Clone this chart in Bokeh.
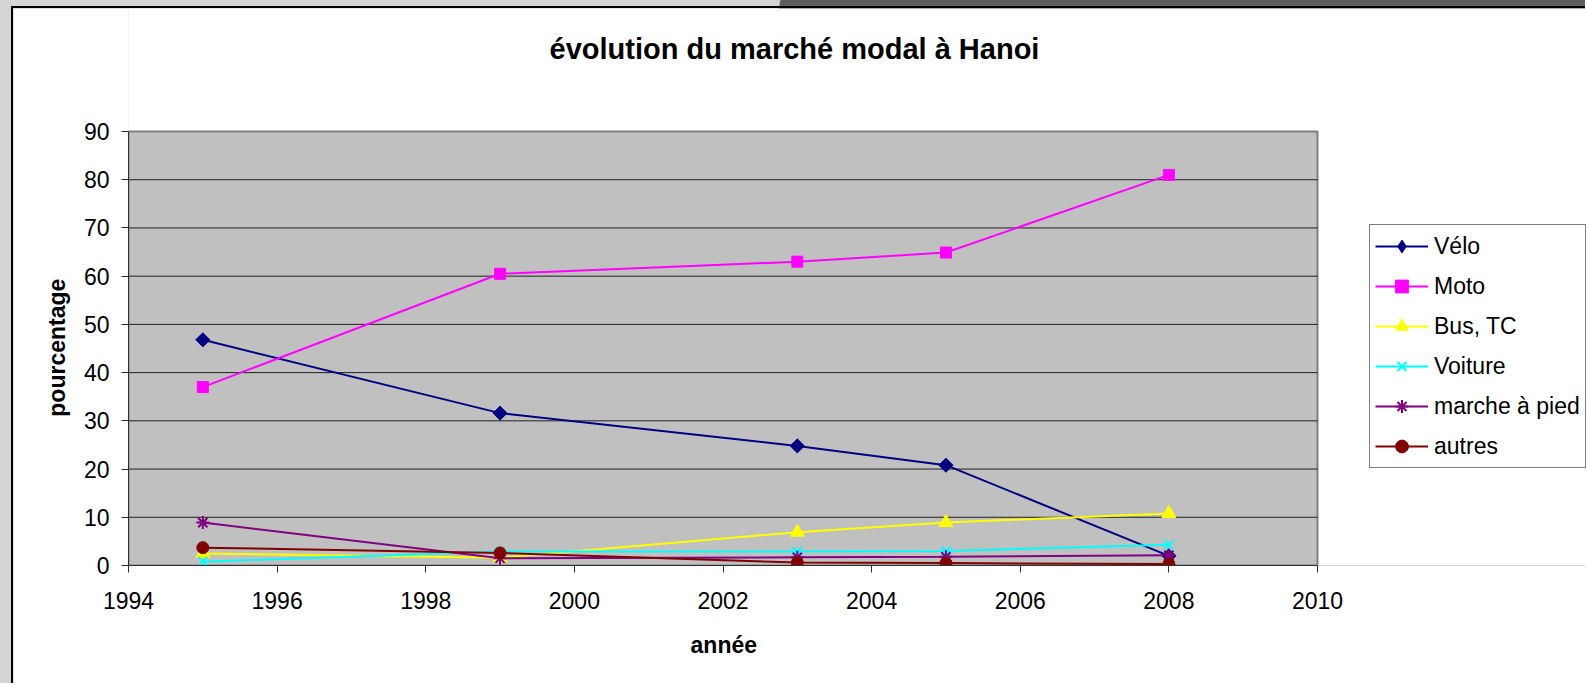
import math
from bokeh.plotting import figure
from bokeh.layouts import column
from bokeh.models import Legend, LegendItem, Label, Range1d, FixedTicker
from bokeh.embed import file_html
from bokeh.resources import INLINE

years = [1995, 1999, 2003, 2005, 2008]
velo = [46.8, 31.6, 24.8, 20.8, 2.0]
moto = [37.0, 60.5, 63.0, 64.9, 81.0]
bus_tc = [2.5, 1.6, 6.9, 8.9, 10.8]
voiture = [0.8, 2.9, 2.9, 3.0, 4.3]
marche = [8.9, 1.5, 1.7, 1.8, 2.1]
autres = [3.7, 2.6, 0.6, 0.5, 0.3]

series = [
    ("Vélo", velo, "#000080", "square", 10, math.pi / 4),
    ("Moto", moto, "#FF00FF", "square", 11, 0),
    ("Bus, TC", bus_tc, "#FFFF00", "triangle", 14, 0),
    ("Voiture", voiture, "#00FFFF", "x", 13, 0),
    ("marche à pied", marche, "#800080", "asterisk", 13, 0),
    ("autres", autres, "#800000", "circle", 12, 0),
]

x_ticks = list(range(1994, 2011, 2))
y_ticks = list(range(0, 91, 10))
X0, X1 = x_ticks[0], x_ticks[-1]
Y0, Y1 = y_ticks[0], y_ticks[-1]

FONT = "Liberation Sans"

FIG_W, FIG_H = 1574, 677
B_LEFT, B_BOTTOM = 115, 120
PLOT_W, PLOT_H = 1189, 434      # size of the grey plot area in pixels
FRAME_W = FIG_W - B_LEFT         # frame runs to the right / top edges (legend, title live there)
FRAME_H = FIG_H - B_BOTTOM
x_end = X0 + (X1 - X0) * FRAME_W / PLOT_W
y_end = Y0 + (Y1 - Y0) * FRAME_H / PLOT_H
px_x = (X1 - X0) / PLOT_W
px_y = (Y1 - Y0) / PLOT_H

# axis labels are centred on the whole frame; pad them with no-break spaces
# so that the visible words sit centred on the grey plot area
NBSP = "\u00a0"
x_label = "année" + NBSP * 42
y_label = "pourcentage" + NBSP * 19

p = figure(width=FIG_W, height=FIG_H, output_backend="svg", toolbar_location=None,
           x_range=Range1d(X0, x_end), y_range=Range1d(Y0, y_end),
           min_border_left=B_LEFT, min_border_right=0, min_border_top=0,
           min_border_bottom=B_BOTTOM)
p.styles = {"border-left": "2px solid black", "border-top": "2px solid black"}

p.background_fill_color = "white"
p.border_fill_color = "white"
p.outline_line_color = None
p.xgrid.grid_line_color = None
p.ygrid.grid_line_color = None

# grey plot area with its grey border
p.quad(left=[X0], right=[X1], bottom=[Y0], top=[Y1],
       fill_color="#C0C0C0", line_color="#808080", line_width=2)
# horizontal gridlines limited to the plot area
grid_y = y_ticks[1:-1]
p.segment(x0=[X0] * len(grid_y), x1=[X1] * len(grid_y), y0=grid_y, y1=grid_y,
          line_color="#202020", line_width=1)

for ax in (p.xaxis[0], p.yaxis[0]):
    ax.axis_line_color = "#303030"
    ax.axis_line_width = 1
    ax.major_tick_line_color = "#303030"
    ax.major_tick_out = 7
    ax.major_tick_in = 0
    ax.minor_tick_line_color = None
    ax.major_label_text_font = FONT
    ax.major_label_text_font_size = "23px"
    ax.major_label_text_color = "black"
    ax.axis_label_text_font = FONT
    ax.axis_label_text_font_size = "23px"
    ax.axis_label_text_font_style = "bold"
    ax.axis_label_text_color = "black"

p.xaxis.bounds = (X0, X1)
p.yaxis.bounds = (Y0, Y1)
p.xaxis.ticker = FixedTicker(ticks=x_ticks)
p.yaxis.ticker = FixedTicker(ticks=y_ticks)
p.xaxis.major_label_standoff = 19
p.yaxis.major_label_standoff = 12
p.xaxis.axis_label = x_label
p.yaxis.axis_label = y_label
p.xaxis.axis_label_standoff = 20
p.yaxis.axis_label_standoff = 11

items = []
for name, vals, color, marker, size, ang in series:
    r1 = p.line(years, vals, line_color=color, line_width=2)
    if marker in ("x", "asterisk"):
        r2 = p.scatter(years, vals, marker=marker, size=size, line_color=color, line_width=2)
    else:
        r2 = p.scatter(years, vals, marker=marker, size=size, angle=ang,
                       fill_color=color, line_color=color)
    rend = [r1, r2]
    if ang:
        # legend-only diamond marker (the plotted one is a rotated square)
        r3 = p.scatter(years, vals, marker="diamond", size=size, fill_color=color,
                       line_color=color, visible=False)
        rend = [r1, r3]
    items.append(LegendItem(label=name, renderers=rend))

legend = Legend(items=items, location=(PLOT_W + 52, 97), orientation="vertical",
                label_text_font=FONT, label_text_font_size="23px", label_text_color="black",
                glyph_width=53, glyph_height=32, label_height=32,
                label_standoff=6, spacing=8, padding=5, margin=0,
                border_line_color="black", border_line_width=1,
                background_fill_color="white", background_fill_alpha=1.0)
p.add_layout(legend, "center")

# chart title, placed above the plot area, centred over the chart
title = Label(x=X0 + 666 * px_x, y=Y1 + 83 * px_y, text="évolution du marché modal à Hanoi",
              text_font=FONT, text_font_size="29px", text_font_style="bold",
              text_align="center", text_baseline="middle", text_color="black")
p.add_layout(title)

root = column(p, styles={
    "padding-left": "11px", "padding-top": "6px",
    "background": "linear-gradient(100deg, #d4d4d4 768px, #5f5f5f 769px)",
})

open("out.html", "w").write(file_html(root, INLINE))
